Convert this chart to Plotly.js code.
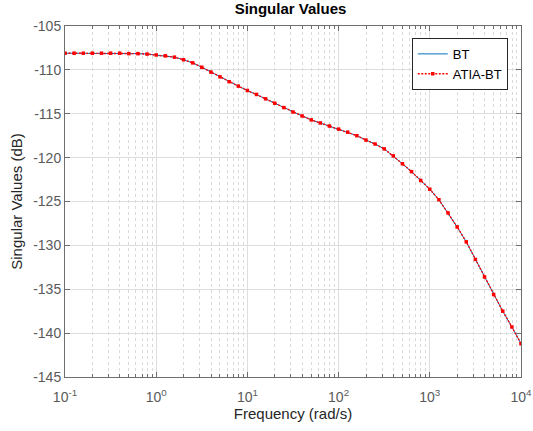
<!DOCTYPE html>
<html>
<head>
<meta charset="utf-8">
<script src="https://cdn.plot.ly/plotly-3.0.1.min.js"></script>
<style>html,body{margin:0;padding:0;background:#fff;}#chart{width:533px;height:431px;}</style>
</head>
<body>
<div id="chart"></div>
<script>
// Frequencies (rad/s), as log10 exponents read along the axis
const logFreq = [-1.0,-0.9,-0.8,-0.7,-0.6,-0.5,-0.4,-0.3,-0.2,-0.1,
  0.0,0.1,0.2,0.3,0.4,0.5,0.6,0.7,0.8,0.9,
  1.0,1.1,1.2,1.3,1.4,1.5,1.6,1.7,1.8,1.9,
  2.0,2.1,2.2,2.3,2.4,2.5,2.6,2.7,2.8,2.9,
  3.0,3.1,3.2,3.3,3.4,3.5,3.6,3.7,3.8,3.9,4.0];
const freq = logFreq.map(v => Math.pow(10, v));
// Singular values (dB)
const btDB = [-108.1,-108.1,-108.1,-108.1,-108.1,-108.1,-108.1,-108.15,-108.15,-108.2,
  -108.3,-108.4,-108.55,-108.85,-109.2,-109.7,-110.25,-110.8,-111.35,-111.85,
  -112.35,-112.8,-113.3,-113.8,-114.3,-114.8,-115.25,-115.7,-116.05,-116.4,
  -116.75,-117.1,-117.5,-118.0,-118.45,-119.0,-119.8,-120.7,-121.6,-122.6,
  -123.6,-124.8,-126.3,-127.9,-129.6,-131.6,-133.6,-135.6,-137.5,-139.3,-141.2];
const atiaDB = [-108.1,-108.1,-108.1,-108.1,-108.1,-108.1,-108.1,-108.15,-108.15,-108.2,
  -108.3,-108.4,-108.55,-108.85,-109.2,-109.7,-110.25,-110.8,-111.35,-111.85,
  -112.35,-112.8,-113.3,-113.8,-114.3,-114.8,-115.25,-115.7,-116.05,-116.4,
  -116.75,-117.1,-117.5,-118.0,-118.45,-119.0,-119.8,-120.7,-121.6,-122.6,
  -123.6,-124.8,-126.3,-127.9,-129.6,-131.6,-133.6,-135.6,-137.5,-139.3,-141.2];
const seriesNames = ['BT', 'ATIA-BT'];
// Tick labels
const xTickVals = [0.1, 1, 10, 100, 1000, 10000];
const xTickText = ['10<sup>-1</sup>', '10<sup>0</sup>', '10<sup>1</sup>', '10<sup>2</sup>', '10<sup>3</sup>', '10<sup>4</sup>'];
const yTickVals = [-145, -140, -135, -130, -125, -120, -115, -110, -105];
const yTickText = ['-145', '-140', '-135', '-130', '-125', '-120', '-115', '-110', '-105'];

const font = 'Liberation Sans, Arial, Helvetica, sans-serif';
const traces = [
  {x: freq, y: btDB, name: seriesNames[0], type: 'scatter', mode: 'lines',
   line: {color: '#0072BD', width: 1}},
  {x: freq, y: atiaDB, name: seriesNames[1], type: 'scatter', mode: 'lines+markers',
   line: {color: '#FF0000', width: 1.4, dash: '2px,1.5px'},
   marker: {color: '#FF0000', size: 3.5, symbol: 'square'}}
];
const axisCol = '#6e6e6e';
const layout = {
  width: 533, height: 431,
  margin: {l: 65, r: 12, t: 26, b: 54},
  paper_bgcolor: '#fff', plot_bgcolor: '#fff',
  font: {family: font, color: '#262626'},
  title: {text: '<b>Singular Values</b>', x: 0.545, xanchor: 'center', y: 0.992, yanchor: 'top',
          font: {family: font, size: 15, color: '#000'}},
  xaxis: {
    type: 'log', range: [-1.00001, 4.00001],
    tickmode: 'array', tickvals: xTickVals, ticktext: xTickText,
    showline: true, linecolor: axisCol, linewidth: 1, mirror: 'ticks',
    ticks: 'inside', ticklen: 5, tickcolor: axisCol,
    ticklabelstandoff: 7,
    showgrid: true, gridcolor: '#dedede', gridwidth: 1,
    zeroline: false,
    tickfont: {family: font, size: 14, color: '#5a5a5a'},
    minor: {dtick: 'D1', ticks: 'inside', ticklen: 3, tickcolor: axisCol,
            showgrid: true, gridcolor: '#dadada', griddash: 'dot', gridwidth: 1},
    title: {text: 'Frequency (rad/s)', font: {family: font, size: 15, color: '#262626'}, standoff: 2}
  },
  yaxis: {
    range: [-145, -105],
    tickmode: 'array', tickvals: yTickVals, ticktext: yTickText,
    showline: true, linecolor: axisCol, linewidth: 1, mirror: 'ticks',
    ticks: 'inside', ticklen: 5, tickcolor: axisCol,
    showgrid: true, gridcolor: '#dedede', gridwidth: 1,
    zeroline: false,
    tickfont: {family: font, size: 14, color: '#5a5a5a'},
    title: {text: 'Singular Values (dB)', font: {family: font, size: 15, color: '#262626'}, standoff: 6}
  },
  legend: {x: 0.971, xanchor: 'right', y: 0.966, yanchor: 'top',
           bgcolor: '#fff', bordercolor: '#262626', borderwidth: 1,
           font: {family: font, size: 13, color: '#000'}, tracegroupgap: 0},
  showlegend: true
};
Plotly.newPlot('chart', traces, layout, {displayModeBar: false, staticPlot: true});
</script>
</body>
</html>
